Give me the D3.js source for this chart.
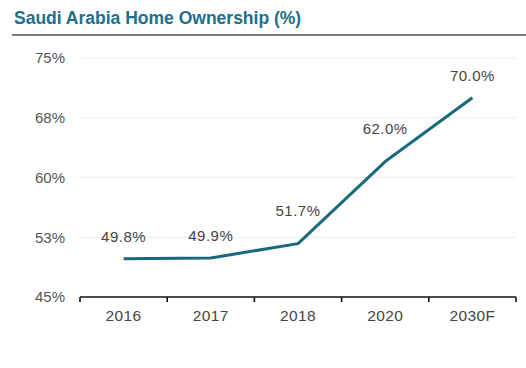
<!DOCTYPE html>
<html><head><meta charset="utf-8">
<script src="https://cdn.jsdelivr.net/npm/d3@7"></script>
<style>body{margin:0;background:#fff}svg{display:block}</style>
</head><body>
<svg id="c" width="526" height="368"></svg>
<script>
const categories = ["2016","2017","2018","2020","2030F"];
const values = [49.8, 49.9, 51.7, 62.0, 70.0];
const valueLabels = ["49.8%","49.9%","51.7%","62.0%","70.0%"];
const yTickValues = [45, 52.5, 60, 67.5, 75];
const yTickLabels = ["45%","53%","60%","68%","75%"];
const title = "Saudi Arabia Home Ownership (%)";

const svg = d3.select("#c");
const font = "Liberation Sans, Arial, sans-serif";
const L = 80, R = 516, T = 58, B = 297;

svg.append("text").attr("x", 14).attr("y", 24).text(title)
  .attr("font-family", font).attr("font-weight", "bold").attr("font-size", 17.5)
  .attr("fill", "#1d6f8b");
svg.append("line").attr("x1", 12).attr("x2", 526).attr("y1", 35).attr("y2", 35)
  .attr("stroke", "#7a7a7a").attr("stroke-width", 2);

const x = d3.scaleBand().domain(categories).range([L, R]).padding(0);
const y = d3.scaleLinear().domain([45, 75]).range([B, T]);

// gridlines
svg.append("g").selectAll("line").data(yTickValues.slice(1)).join("line")
  .attr("x1", L).attr("x2", R).attr("y1", d => y(d)).attr("y2", d => y(d))
  .attr("stroke", "#ececec").attr("stroke-width", 1);

// y axis labels
const yAxis = d3.axisLeft(y).tickValues(yTickValues)
  .tickFormat((d, i) => yTickLabels[i]).tickSize(0).tickPadding(15);
const gy = svg.append("g").attr("transform", `translate(${L},0)`).call(yAxis);
gy.select(".domain").remove();
gy.selectAll("text").attr("font-family", font).attr("font-size", 15).attr("fill", "#555");

// x axis
const gx = svg.append("g").attr("transform", `translate(0,${B})`);
gx.append("line").attr("x1", L).attr("x2", R).attr("stroke", "#111").attr("stroke-width", 1.6);
const bounds = categories.map(c => x(c)).concat([R]);
gx.selectAll("line.tk").data(bounds).join("line").attr("class", "tk")
  .attr("x1", d => d).attr("x2", d => d).attr("y1", 0).attr("y2", 5)
  .attr("stroke", "#111").attr("stroke-width", 1.6);
const xAxis = d3.axisBottom(x).tickSize(0).tickPadding(13);
const gxa = svg.append("g").attr("transform", `translate(0,${B})`).call(xAxis);
gxa.select(".domain").remove();
gxa.selectAll("text").attr("font-family", font).attr("font-size", 15.5)
  .attr("letter-spacing", 0.4).attr("fill", "#444");

// line
const cx = c => x(c) + x.bandwidth() / 2;
const line = d3.line().x((d, i) => cx(categories[i])).y(d => y(d));
svg.append("path").datum(values).attr("d", line)
  .attr("fill", "none").attr("stroke", "#1a6a7f").attr("stroke-width", 3)
  .attr("stroke-linejoin", "round");

// labels
svg.append("g").selectAll("text").data(values).join("text")
  .attr("x", (d, i) => cx(categories[i]))
  .attr("y", (d, i) => {
    const next = values[i + 1];
    const off = (next !== undefined && next - d > 5) ? 28 : 17;
    return y(d) - off;
  })
  .attr("text-anchor", "middle")
  .attr("font-family", font).attr("font-size", 15).attr("letter-spacing", 0.5)
  .attr("fill", "#444")
  .text((d, i) => valueLabels[i]);
</script>
</body></html>
